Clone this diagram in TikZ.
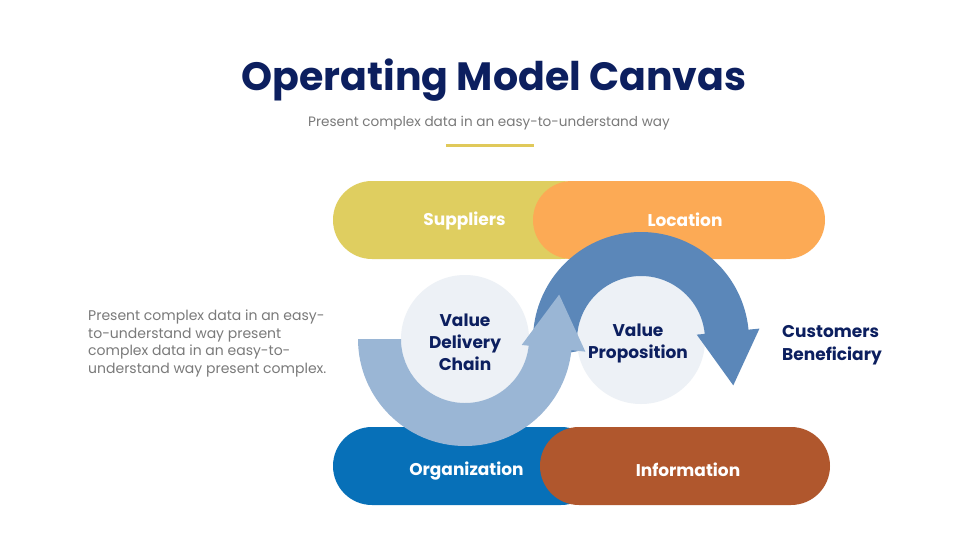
\documentclass[tikz,border=0pt]{standalone}
\usepackage{fontspec}
\setmainfont{Poppins}
\usetikzlibrary{calc}
\definecolor{navy}{HTML}{0C1F5F}
\definecolor{graytxt}{HTML}{7A7A7A}
\definecolor{accent}{HTML}{E0C95A}
\definecolor{supcol}{HTML}{DFCE60}
\definecolor{loccol}{HTML}{FCAA55}
\definecolor{orgcol}{HTML}{0770B8}
\definecolor{infcol}{HTML}{B0572D}
\definecolor{lightarr}{HTML}{9AB6D5}
\definecolor{darkarr}{HTML}{5B87B9}
\definecolor{circcol}{HTML}{EDF1F6}
\tikzset{
  pill/.style={rectangle, rounded corners=39pt, minimum height=78pt, inner sep=0pt},
  pilltext/.style={text=white, font=\fontsize{17}{20}\selectfont\bfseries},
  hub/.style={circle, fill=circcol, minimum size=128pt, inner sep=0pt},
  hubtext/.style={align=center, text=navy, font=\fontsize{17}{22}\selectfont\bfseries},
}
\begin{document}
\begin{tikzpicture}[x=1pt,y=-1pt]
\useasboundingbox (0,0) rectangle (980,551);
\fill[white] (0,0) rectangle (980,551);
% title
\node[text=navy, font=\fontsize{39.5}{44}\selectfont\bfseries] (title) at (494,80) {Operating Model Canvas};
\node[text=graytxt, font=\fontsize{13.6}{17}\selectfont] (sub) at (489,123) {Present complex data in an easy-to-understand way};
\coordinate (la) at (446,145);
\coordinate (lb) at (534,145);
\draw[accent, line width=3pt] (la) -- (lb);
% pills
\node[pill, fill=supcol, minimum width=267pt] (sup) at (466.5,220) {};
\node[pill, fill=orgcol, minimum width=267pt] (org) at (466.5,466) {};
\node[pill, fill=loccol, minimum width=292pt] (loc) at (679,220) {};
\node[pill, fill=infcol, minimum width=290pt] (inf) at (685,466) {};
\node[pilltext] (supt) at ([xshift=-2pt,yshift=-1pt]sup.center) {Suppliers};
\node[pilltext] (loct) at ([xshift=6pt]loc.center) {Location};
\node[pilltext] (orgt) at ([yshift=-5pt]org.center) {Organization};
\node[pilltext] (inft) at ([xshift=3pt,yshift=-4pt]inf.center) {Information};
% circles
\node[hub] (vdc) at (465,339) {};
\node[hub] (vp) at (641,340) {};
% dark arrow around value proposition
\coordinate (c2) at (641,340);
\fill[darkarr] ($(c2)+(170:108)$) arc[start angle=170, end angle=354.5, radius=108]
  -- ($(c2)+(354.5:119)$) -- ($(c2)+(354.5:87.5)+(84.5:54)$) -- ($(c2)+(354.5:56)$)
  -- ($(c2)+(354.5:64)$) arc[start angle=354.5, end angle=170, radius=64] -- cycle;
% light arrow around value delivery chain
\coordinate (c1) at (465,339);
\fill[lightarr] ($(c1)+(180:107)$) arc[start angle=180, end angle=6, radius=107]
  -- ($(c1)+(6:121)$) -- ($(c1)+(6:89)+(-84:54)$) -- ($(c1)+(6:57)$)
  -- ($(c1)+(6:64)$) arc[start angle=6, end angle=180, radius=64] -- cycle;
% circle texts
\node[hubtext] (vdct) at (465,342) {Value\\Delivery\\Chain};
\node[hubtext] (vpt) at (638,343) {Value\\Proposition};
% customers
\node[anchor=west, align=left, text=navy, font=\fontsize{17}{23}\selectfont\bfseries, inner sep=0pt] (cust) at (782,345) {Customers\\Beneficiary};
% paragraph
\node[anchor=north west, align=left, text=graytxt, font=\fontsize{14}{17.5}\selectfont, inner sep=0pt] (para) at (88,310) {Present complex data in an easy-\\to-understand way present\\complex data in an easy-to-\\understand way present complex.};
\end{tikzpicture}
\end{document}
